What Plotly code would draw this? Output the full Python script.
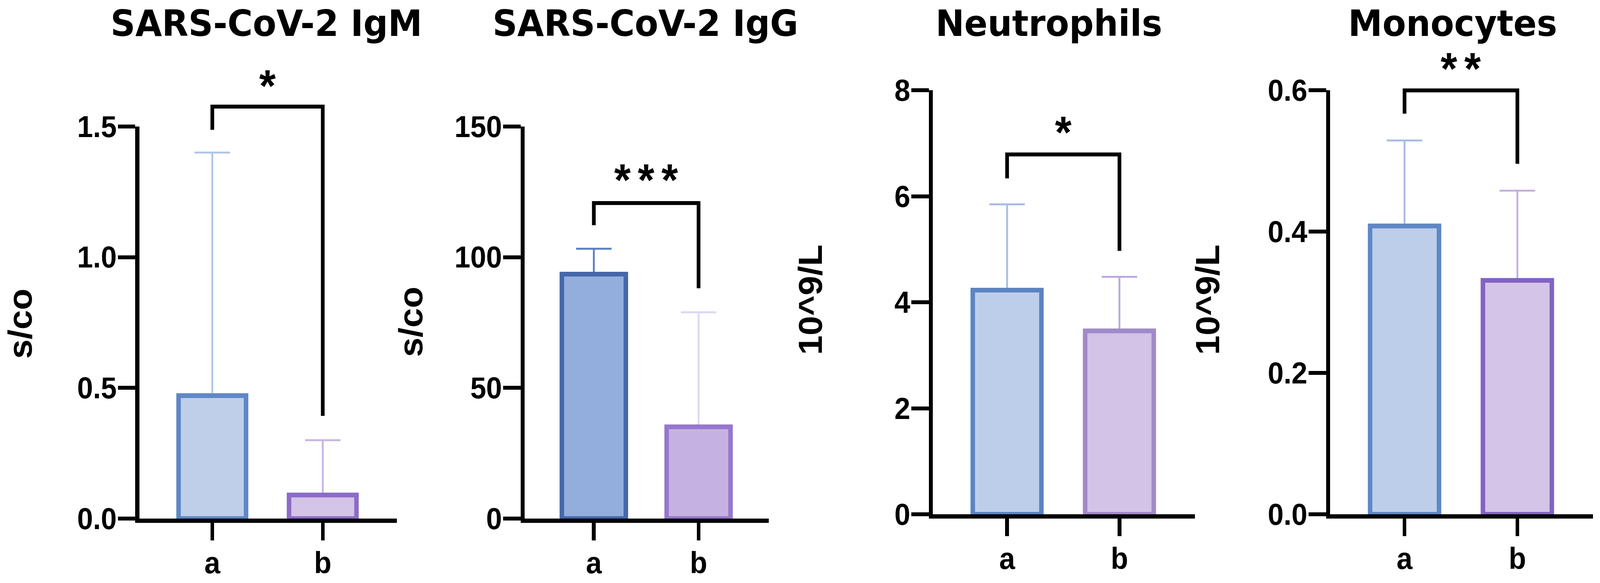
import plotly.graph_objects as go

# groups and panel texts
groups = ["a", "b"]
titles = ["SARS-CoV-2 IgM", "SARS-CoV-2 IgG", "Neutrophils", "Monocytes"]
units = ["s/co", "s/co", "10^9/L", "10^9/L"]

# means and SD
igm_mean = [0.47, 0.09]
igm_sd = [0.93, 0.21]
igg_mean = [93.5, 35.1]
igg_sd = [9.7, 43.8]
neu_mean = [4.23, 3.46]
neu_sd = [1.62, 1.02]
mono_mean = [0.408, 0.331]
mono_sd = [0.121, 0.127]

# y ticks
igm_ticks = [0, 0.5, 1.0, 1.5]
igm_ticktext = ["0.0", "0.5", "1.0", "1.5"]
igg_ticks = [0, 50, 100, 150]
igg_ticktext = ["0", "50", "100", "150"]
neu_ticks = [0, 2, 4, 6, 8]
neu_ticktext = ["0", "2", "4", "6", "8"]
mono_ticks = [0, 0.2, 0.4, 0.6]
mono_ticktext = ["0.0", "0.2", "0.4", "0.6"]

# significance brackets: left foot, top, right foot
igm_bracket = [1.487, 1.576, 0.393]
igg_bracket = [112.2, 120.7, 88.1]
neu_bracket = [6.34, 6.79, 4.97]
mono_bracket = [0.567, 0.600, 0.496]
sig_text = ["*", "***", "*", "**"]
sig_y = [1.675, 131.5, 7.30, 0.638]

panels = [
    dict(mean=igm_mean, sd=igm_sd, ticks=igm_ticks, ticktext=igm_ticktext, bracket=igm_bracket),
    dict(mean=igg_mean, sd=igg_sd, ticks=igg_ticks, ticktext=igg_ticktext, bracket=igg_bracket),
    dict(mean=neu_mean, sd=neu_sd, ticks=neu_ticks, ticktext=neu_ticktext, bracket=neu_bracket),
    dict(mean=mono_mean, sd=mono_sd, ticks=mono_ticks, ticktext=mono_ticktext, bracket=mono_bracket),
]

# styling per panel
fills = [["#BFCFEA", "#D3C4E8"], ["#93AEDC", "#C6B2E2"], ["#BDCEEA", "#D3C3E7"], ["#BDCEEA", "#D4C4E8"]]
edges = [["#5F87C5", "#8C6CC6"], ["#4568AA", "#9478CC"], ["#5C84C2", "#A08BC8"], ["#5F87C5", "#8263C2"]]
errc = [["#B3C5E6", "#C9B5E3"], ["#5B7FC0", "#DED6F2"], ["#A7BDE2", "#BBA9DD"], ["#A9BDE3", "#C4B0E0"]]

W, H = 4327, 1493
x_domains = [[0.08713, 0.24798], [0.32794, 0.48047], [0.58308, 0.74671], [0.83129, 0.99561]]
y_domains = [[0.11052, 0.78312], [0.11052, 0.78312], [0.11788, 0.84501], [0.11788, 0.84501]]
title_x = [0.1664, 0.4033, 0.6556, 0.9078]
unit_pos = [(0.0127, 0.4447), (0.2568, 0.4481), (0.5066, 0.4856), (0.7548, 0.4856)]
EXT = 1.2
BAR_W = 0.61

tick_font = dict(family="Liberation Sans", size=77, color="black", weight="bold")

fig = go.Figure()
layout = dict(
    width=W, height=H, autosize=False,
    margin=dict(l=0, r=0, t=0, b=0, pad=0),
    paper_bgcolor="white", plot_bgcolor="rgba(0,0,0,0)",
    showlegend=False, barmode="overlay",
)
annotations = []

for i, p in enumerate(panels, start=1):
    xs = "" if i == 1 else str(i)
    xname, yname, hname = "x" + xs, "y" + xs, "y" + str(i + 4)
    top = p["ticks"][-1]
    for j, g in enumerate(groups):
        bar_marker = dict(color=fills[i - 1][j], line=dict(color=edges[i - 1][j], width=12))
        # bar carrying the SD whisker
        fig.add_trace(go.Bar(
            x=[g], y=[p["mean"][j]], width=BAR_W, marker=bar_marker,
            error_y=dict(type="data", array=[p["sd"][j]], arrayminus=[0], symmetric=False,
                         color=errc[i - 1][j], thickness=5, width=48),
            xaxis=xname, yaxis=yname, hoverinfo="skip",
        ))
        # same bar again on top, hides the lower whisker cap
        fig.add_trace(go.Bar(
            x=[g], y=[p["mean"][j]], width=BAR_W, marker=bar_marker,
            xaxis=xname, yaxis=yname, hoverinfo="skip",
        ))
    b = p["bracket"]
    fig.add_trace(go.Scatter(
        x=[groups[0], groups[0], groups[1], groups[1]], y=[b[0], b[1], b[1], b[2]],
        mode="lines", line=dict(color="black", width=10),
        xaxis=xname, yaxis=hname, hoverinfo="skip",
    ))

    y0, y1 = y_domains[i - 1]
    layout["xaxis" + xs] = dict(
        domain=x_domains[i - 1], anchor=yname, type="category",
        categoryorder="array", categoryarray=groups, range=[-0.66, 1.67],
        showline=True, linecolor="black", linewidth=11,
        ticks="outside", ticklen=45, tickwidth=10, tickcolor="black", ticklabelstandoff=-8,
        tickfont=dict(family="Liberation Sans", size=77, color="black", weight="bold"),
        showgrid=False, zeroline=False, fixedrange=True, automargin=False,
    )
    layout["yaxis" + xs] = dict(
        domain=[y0, y1], anchor=xname, range=[0, top],
        tickvals=p["ticks"], ticktext=p["ticktext"],
        showline=True, linecolor="black", linewidth=11,
        ticks="outside", ticklen=47, tickwidth=10, tickcolor="black", ticklabelstandoff=-12,
        tickfont=tick_font, showgrid=False, zeroline=False, fixedrange=True, automargin=False,
    )
    # invisible twin axis with head room above the top tick, for brackets and stars
    layout["yaxis" + str(i + 4)] = dict(
        domain=[y0, y0 + (y1 - y0) * EXT], anchor=xname, range=[0, top * EXT],
        visible=False, fixedrange=True, automargin=False,
    )
    annotations.append(dict(
        x=0.5, xref=xname, y=sig_y[i - 1], yref=hname,
        text="\u2006".join(sig_text[i - 1]),
        showarrow=False, xanchor="center", yanchor="middle", yshift=-12,
        font=dict(family="Liberation Sans", size=115, color="black", weight="bold"),
    ))
    annotations.append(dict(
        x=title_x[i - 1], xref="paper", y=0.96, yref="paper", text=titles[i - 1],
        showarrow=False, xanchor="center", yanchor="middle",
        font=dict(family="DejaVu Sans", size=93, color="black", weight="bold"),
    ))
    ux, uy = unit_pos[i - 1]
    annotations.append(dict(
        x=ux, xref="paper", y=uy, yref="paper", text=units[i - 1], textangle=-90,
        showarrow=False, xanchor="center", yanchor="middle",
        font=dict(family="Liberation Sans", size=90, color="black", weight="bold"),
    ))

layout["annotations"] = annotations
fig.update_layout(**layout)

# no page margin or scrollbars; if the window is not W x H, fit the figure into it
page_js = """
var gd = document.getElementById('{plot_id}');
document.documentElement.style.margin = '0';
document.body.style.margin = '0';
document.documentElement.style.overflow = 'hidden';
document.body.style.overflow = 'hidden';
var sx = window.innerWidth / %d, sy = window.innerHeight / %d;
if (Math.abs(sx - 1) > 0.002 || Math.abs(sy - 1) > 0.002) {
    gd.style.transformOrigin = '0 0';
    gd.style.transform = 'scale(' + sx + ',' + sy + ')';
}
""" % (W, H)
fig.write_html("out.html", post_script=page_js, config={"displayModeBar": False})
